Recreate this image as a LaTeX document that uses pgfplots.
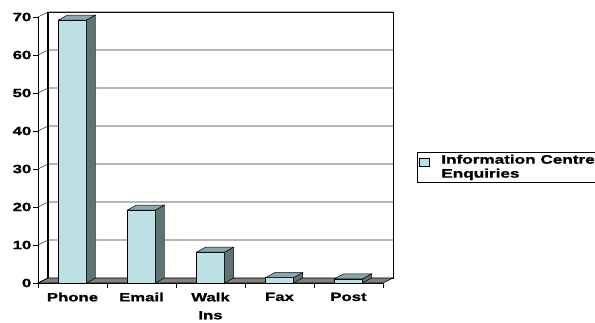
\documentclass[border=0pt]{standalone}
\usepackage{fontspec}
\setmainfont{Liberation Sans}[FakeStretch=1.4, BoldFeatures={FakeBold=1.2}]
\usepackage{pgfplots}
\pgfplotsset{compat=1.18}
\definecolor{barfront}{RGB}{188,224,228}
\definecolor{barside}{RGB}{95,115,117}
\definecolor{bartop}{RGB}{137,166,170}
\definecolor{floorgray}{RGB}{128,128,128}
\newcommand\barval{0}
\pgfdeclareplotmark{bar3d}{%
  \pgfmathsetmacro\hh{\barval*3.8}%
  \pgfsetfillcolor{barside}%
  \pgfpathmoveto{\pgfpoint{14bp}{0bp}}%
  \pgfpathlineto{\pgfpoint{23bp}{5bp}}%
  \pgfpathlineto{\pgfpoint{23bp}{(5-\hh)*1bp}}%
  \pgfpathlineto{\pgfpoint{14bp}{-\hh*1bp}}%
  \pgfpathclose
  \pgfusepathqfillstroke
  \pgfsetfillcolor{bartop}%
  \pgfpathmoveto{\pgfpoint{-14bp}{0bp}}%
  \pgfpathlineto{\pgfpoint{14bp}{0bp}}%
  \pgfpathlineto{\pgfpoint{23bp}{5bp}}%
  \pgfpathlineto{\pgfpoint{-5bp}{5bp}}%
  \pgfpathclose
  \pgfusepathqfillstroke
}
\pgfplotstableread{
x y
0 69.2
1 19.2
2 8.1
3 1.4
4 1.1
}\enquiries
\begin{document}
\begin{tikzpicture}
\begin{axis}[
  at={(38bp,40bp)}, anchor=south west,
  x=69bp, y=3.8bp,
  xmin=-0.5, xmax=4.5, ymin=0, ymax=70,
  axis x line*=bottom, axis y line*=left,
  axis line style={black, line width=0.7pt},
  clip=false,
  ytick={0,10,...,70},
  xtick={-0.5,0.5,...,4.5},
  x tick label as interval,
  xticklabels={Phone,Email,Walk\\Ins,Fax,Post},
  tick align=outside,
  major tick length=4.5bp,
  tick style={black, line width=0.7pt},
  /pgf/number format/assume math mode=true,
  ticklabel style={font=\bfseries\fontsize{12}{18}\selectfont},
  xticklabel style={align=center, inner sep=2bp, yshift=-3bp},
  yticklabel style={inner sep=2bp},
]
% back wall
\draw[black, line width=0.6pt, fill=white]
  ([shift={(10bp,5bp)}]axis cs:-0.5,0) rectangle ([shift={(10bp,5bp)}]axis cs:4.5,70);
% gridlines (back wall + left wall)
\pgfplotsinvokeforeach{10,20,...,70}{
  \draw[black!80, line width=0.6pt] (axis cs:-0.5,#1) -- ([shift={(10bp,5bp)}]axis cs:-0.5,#1)
    -- ([shift={(10bp,5bp)}]axis cs:4.5,#1);
}
\draw[black, line width=1.8pt] ([shift={(10bp,5bp)}]axis cs:-0.5,0) -- ([shift={(10bp,5bp)}]axis cs:-0.5,70);
% floor
\draw[black, line width=0.6pt, fill=floorgray]
  (axis cs:-0.5,0) -- (axis cs:4.5,0) -- ([shift={(10bp,5bp)}]axis cs:4.5,0)
  -- ([shift={(10bp,5bp)}]axis cs:-0.5,0) -- cycle;
\draw[black, line width=0.6pt] (axis cs:-0.5,0) -- ([shift={(10bp,5bp)}]axis cs:-0.5,0);
% bars (front faces)
\addplot[ybar, bar width=28bp, bar shift=0pt, fill=barfront, draw=black, line width=0.5pt, forget plot]
  table[x=x,y=y] {\enquiries};
% bars (side and top faces)
\addplot[forget plot, scatter, only marks, mark=bar3d,
  scatter/use mapped color={draw=black, fill=barside},
  mark options={line width=0.5pt},
  visualization depends on={rawy \as \barval}]
  table[x=x,y=y] {\enquiries};
% legend
\node[draw=black, line width=0.6pt, anchor=north west, align=left,
  inner xsep=2bp, inner ysep=2.5bp, font=\bfseries\fontsize{12.3}{14}\selectfont]
  (leg) at (axis description cs:1.0986,0.4925)
  {\hspace*{22bp}Information Centre\hspace*{8bp}\\\hspace*{22bp}Enquiries};
\draw[fill=barfront, draw=black, line width=0.5pt]
  ([xshift=2.5bp, yshift=-6bp]leg.north west) rectangle ++(9.5bp,-8bp);
\end{axis}
\pgfresetboundingbox
\path (0,0) rectangle (595bp,323bp);
\end{tikzpicture}
\end{document}
